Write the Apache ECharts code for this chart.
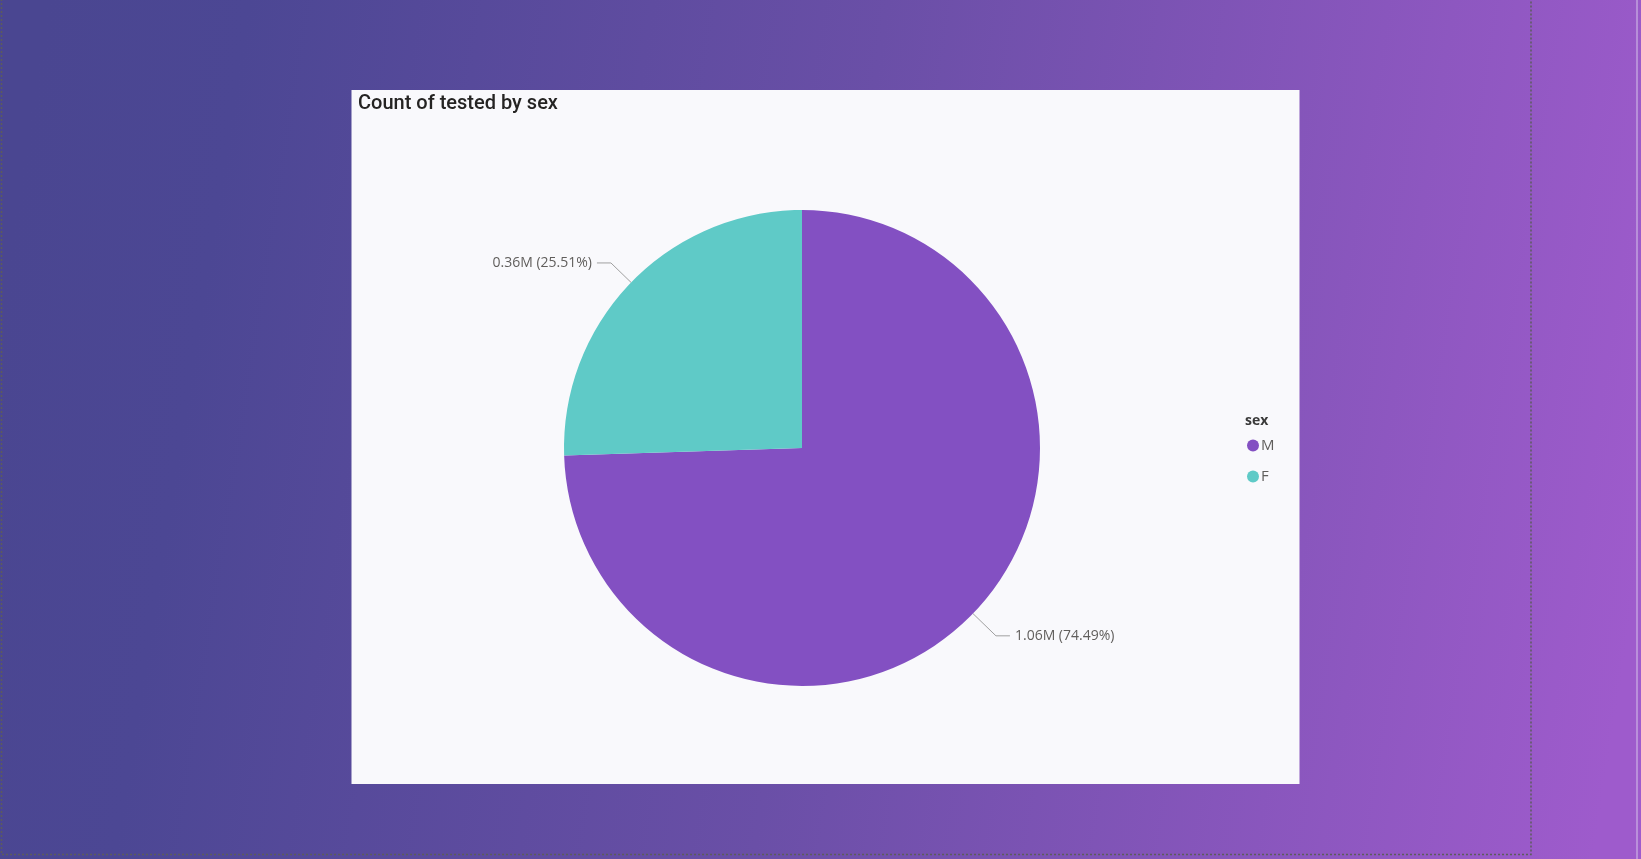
<!DOCTYPE html>
<html>
<head>
<meta charset="utf-8">
<script src="https://cdn.jsdelivr.net/npm/echarts@6/dist/echarts.min.js"></script>
<style>
html,body{margin:0;padding:0;width:1641px;height:859px;overflow:hidden;}
#chart{width:1641px;height:859px;}
</style>
</head>
<body>
<div id="chart"></div>
<script>
// Data
const categories = ['M', 'F'];
const values = [1057800, 362240];
const titleText = 'Count of tested by sex';
const legendTitle = 'sex';
const colors = ['#8350c2', '#5fcac7'];
const lineLengths = [32, 28];

const total = values.reduce((a, b) => a + b, 0);
const pieData = categories.map((c, i) => ({
  name: c, value: values[i], labelLine: { length: lineLengths[i] }
}));

const chart = echarts.init(document.getElementById('chart'));
chart.setOption({
  animation: false,
  graphic: [
    {
      type: 'rect', z: -10, silent: true,
      shape: { x: 0, y: 0, width: 1641, height: 859 },
      style: {
        fill: new echarts.graphic.LinearGradient(0, 0.35, 1, 0.65, [
          { offset: 0, color: '#4a4691' },
          { offset: 0.12, color: '#4c4794' },
          { offset: 0.5, color: '#6a4fa7' },
          { offset: 1, color: '#9e5bcc' }
        ])
      }
    },
    {
      type: 'rect', z: -9, silent: true,
      shape: { x: 1.5, y: -5, width: 1529.5, height: 859.5 },
      style: { fill: 'none', stroke: '#5c5c5c', lineWidth: 1.5, lineDash: [2, 2] }
    },
    {
      type: 'rect', z: -9, silent: true,
      shape: { x: 1636.5, y: 0, width: 1, height: 859 },
      style: { fill: '#d6c3ea' }
    },
    {
      type: 'rect', z: -8, silent: true,
      shape: { x: 351.5, y: 90, width: 948, height: 694 },
      style: { fill: '#f9f9fc' }
    }
  ],
  title: [
    {
      text: titleText, left: 353, top: 89,
      textStyle: { fontFamily: 'Roboto', fontSize: 20, fontWeight: 500, color: '#252423' }
    },
    {
      text: legendTitle, left: 1240, top: 409,
      textStyle: { fontFamily: 'Open Sans', fontSize: 14, fontWeight: 'bold', color: '#3a3a3a' }
    }
  ],
  legend: {
    orient: 'vertical', left: 1242, top: 433,
    icon: 'circle', itemWidth: 12, itemHeight: 12, itemGap: 16,
    data: categories,
    textStyle: { fontFamily: 'Open Sans', fontSize: 15, color: '#605e5c', padding: [0, 0, 0, -3] }
  },
  series: [{
    type: 'pie',
    center: [802, 448],
    radius: 238,
    startAngle: 90,
    clockwise: true,
    color: colors,
    data: pieData,
    label: {
      show: true,
      fontFamily: 'Open Sans', fontSize: 14, color: '#605e5c',
      formatter: p => (p.value / 1e6).toFixed(2) + 'M (' + (p.value / total * 100).toFixed(2) + '%)'
    },
    labelLine: {
      show: true, length: 30, length2: 14,
      lineStyle: { color: '#a0a0a0', width: 1 }
    },
    emphasis: { disabled: true }
  }]
});
</script>
</body>
</html>
